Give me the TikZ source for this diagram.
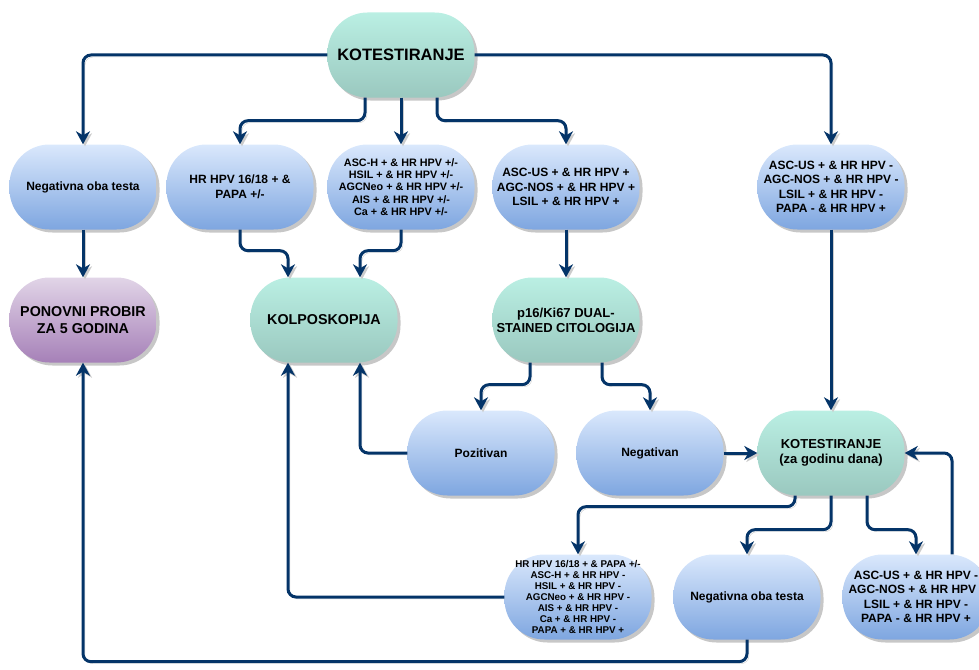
\documentclass[tikz,border=0pt]{standalone}
\usepackage{fontspec}
\setmainfont{Liberation Sans}
\usetikzlibrary{arrows.meta,shadows}

\definecolor{navy}{RGB}{4,52,104}
\definecolor{bluetop}{HTML}{DAE8FC}
\definecolor{bluebot}{HTML}{7EA6E0}
\definecolor{greentop}{RGB}{186,239,227}
\definecolor{greenbot}{RGB}{154,200,191}
\definecolor{purptop}{HTML}{E1D5E7}
\definecolor{purpbot}{HTML}{A680B8}

\tikzset{
  box/.style={rounded corners=40pt, minimum width=147pt, minimum height=85pt,
    inner sep=2pt, align=center, font=\bfseries\fontsize{12}{14.5}\selectfont,
    drop shadow={shadow xshift=3pt, shadow yshift=-3pt, fill=black!22, opacity=1}},
  bluebox/.style={box, top color=bluetop, bottom color=bluebot},
  greenbox/.style={box, top color=greentop, bottom color=greenbot},
  purplebox/.style={box, top color=purptop, bottom color=purpbot},
  conn/.style={draw=navy, line width=3pt, rounded corners=8pt,
    -{Stealth[length=13pt,width=14pt,inset=4pt]},
    preaction={draw=black!20, transform canvas={shift={(2pt,-2pt)}}}},
}

\begin{document}
\begin{tikzpicture}[x=1pt,y=-1pt]
    \useasboundingbox (0,0) rectangle (979,669);

    % first row
    \node[greenbox, font=\bfseries\fontsize{16.5}{19}\selectfont] (kot) at (401,55) {KOTESTIRANJE};
    \node[bluebox] (neg) at (83,187) {Negativna oba testa};
    \node[bluebox] (hr) at (240,187) {HR HPV 16/18 + \&\\PAPA +/-};
    \node[bluebox, font=\bfseries\fontsize{10.8}{12.2}\selectfont] (asch) at (401,187)
        {ASC-H + \& HR HPV +/-\\HSIL + \& HR HPV +/-\\AGCNeo + \& HR HPV +/-\\AIS + \& HR HPV +/-\\Ca + \& HR HPV +/-};
    \node[bluebox] (ascp) at (566,187) {ASC-US + \& HR HPV +\\AGC-NOS + \& HR HPV +\\LSIL + \& HR HPV +};
    \node[bluebox] (ascn) at (831,187) {ASC-US + \& HR HPV -\\AGC-NOS + \& HR HPV -\\LSIL + \& HR HPV -\\PAPA - \& HR HPV +};

    % second row
    \node[purplebox, font=\bfseries\fontsize{14.3}{17}\selectfont] (probir) at (83,320) {PONOVNI PROBIR\\ZA 5 GODINA};
    \node[greenbox, font=\bfseries\fontsize{14.3}{17}\selectfont] (kolp) at (324,320) {KOLPOSKOPIJA};
    \node[greenbox, font=\bfseries\fontsize{13}{15}\selectfont] (dual) at (566,320) {p16/Ki67 DUAL-\\STAINED CITOLOGIJA};

    % third row
    \node[bluebox] (poz) at (481,453) {Pozitivan};
    \node[bluebox] (negv) at (650,453) {Negativan};
    \node[greenbox, font=\bfseries\fontsize{13}{15}\selectfont] (kot2) at (831,453) {KOTESTIRANJE\\(za godinu dana)};

    % fourth row
    \node[bluebox, font=\bfseries\fontsize{9.8}{11}\selectfont] (lista) at (578,597)
        {HR HPV 16/18 + \& PAPA +/-\\ASC-H + \& HR HPV -\\HSIL + \& HR HPV -\\AGCNeo + \& HR HPV -\\AIS + \& HR HPV -\\Ca + \& HR HPV -\\PAPA + \& HR HPV +};
    \node[bluebox] (neg2) at (747,597) {Negativna oba testa};
    \node[bluebox] (asc2) at (916,597) {ASC-US + \& HR HPV -\\AGC-NOS + \& HR HPV -\\LSIL + \& HR HPV -\\PAPA - \& HR HPV +};

    % connectors
    \draw[conn] (kot.west) -| (neg.north);
    \draw[conn] (kot.east) -| (ascn.north);
    \draw[conn] ([xshift=-36pt]kot.south) -- ++(0,23) -| (hr.north);
    \draw[conn] (kot.south) -- (asch.north);
    \draw[conn] ([xshift=36pt]kot.south) -- ++(0,23) -| (ascp.north);

    \draw[conn] (neg) -- (probir);
    \draw[conn] (hr.south) -- ++(0,21) -| ([xshift=-36pt]kolp.north);
    \draw[conn] (asch.south) -- ++(0,21) -| ([xshift=36pt]kolp.north);
    \draw[conn] (ascp) -- (dual);
    \draw[conn] (ascn) -- (kot2);

    \draw[conn] ([xshift=-36pt]dual.south) -- ++(0,22) -| (poz.north);
    \draw[conn] ([xshift=36pt]dual.south) -- ++(0,22) -| (negv.north);
    \draw[conn] (poz.west) -| ([xshift=36pt]kolp.south);
    \draw[conn] (negv) -- (kot2);
    \draw[conn] ([xshift=36pt]asc2.north) |- (kot2.east);

    \draw[conn] ([xshift=-36pt]kot2.south) -- ++(0,11) -| (lista.north);
    \draw[conn] (kot2.south) -- ++(0,34) -| (neg2.north);
    \draw[conn] ([xshift=36pt]kot2.south) -- ++(0,34) -| (asc2.north);
    \draw[conn] (lista.west) -| ([xshift=-36pt]kolp.south);
    \draw[conn] (neg2.south) -- ++(0,22) -| (probir.south);
\end{tikzpicture}
\end{document}
